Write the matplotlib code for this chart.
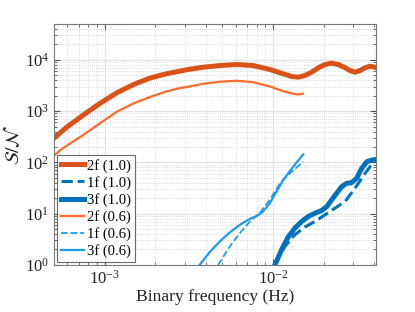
import numpy as np
import matplotlib
matplotlib.use("Agg")
import matplotlib.pyplot as plt

plt.rcParams['font.family'] = ['Liberation Serif', 'DejaVu Serif']
plt.rcParams['mathtext.fontset'] = 'stix'

# 2f (1.0)
f_2f10 = [5.0e-4, 5.92e-4, 7.43e-4, 9.33e-4, 1.175e-3, 1.476e-3, 1.854e-3, 2.33e-3, 2.79e-3,
          3.06e-3, 3.85e-3, 4.84e-3, 6.08e-3, 7.64e-3, 9.59e-3, 1.15e-2, 1.29e-2, 1.416e-2,
          1.549e-2, 1.70e-2, 1.862e-2, 2.04e-2, 2.23e-2, 2.45e-2, 2.69e-2, 2.87e-2, 3.08e-2,
          3.30e-2, 3.53e-2, 3.78e-2, 4.05e-2, 4.1e-2]
s_2f10 = [295, 479, 828, 1400, 2250, 3270, 4400, 5350, 6010,
          6400, 7180, 7740, 8110, 7740, 6490, 5350, 4740, 4590,
          4950, 5750, 7000, 8110, 8590, 8110, 7000, 6190, 5750,
          6190, 7000, 7520, 7180, 7050]

# 2f (0.6)
f_2f06 = [5.0e-4, 5.52e-4, 7.43e-4, 9.33e-4, 1.175e-3, 1.476e-3, 1.854e-3, 2.33e-3, 2.79e-3,
          3.06e-3, 3.85e-3, 4.84e-3, 6.08e-3, 7.64e-3, 9.59e-3, 1.15e-2, 1.38e-2, 1.45e-2, 1.51e-2]
s_2f06 = [135, 179, 339, 571, 962, 1400, 1880, 2420, 2810,
          2940, 3420, 3740, 3910, 3670, 3030, 2450, 2120, 2130, 2190]

# 3f (0.6)
f_3f06 = [3.67e-3, 4.22e-3, 4.84e-3, 5.55e-3, 6.37e-3, 7.30e-3, 8.00e-3, 8.75e-3, 9.59e-3,
          1.052e-2, 1.151e-2, 1.262e-2, 1.384e-2, 1.514e-2]
s_3f06 = [1.0, 1.79, 2.87, 4.30, 6.07, 7.93, 8.93, 11.0, 16.0,
          26.9, 45.3, 67.8, 100, 143]

# 1f (0.6)
f_1f06 = [4.73e-3, 5.55e-3, 6.37e-3, 7.30e-3, 8.38e-3, 9.59e-3, 1.102e-2, 1.262e-2, 1.514e-2]
s_1f06 = [1.0, 2.30, 4.18, 7.03, 10.5, 18.5, 39.1, 61.1, 103]

# 3f (1.0)
f_3f10 = [1.028e-2, 1.127e-2, 1.233e-2, 1.352e-2, 1.483e-2, 1.622e-2, 1.778e-2, 1.950e-2,
          2.089e-2, 2.234e-2, 2.393e-2, 2.564e-2, 2.748e-2, 2.938e-2, 3.148e-2, 3.373e-2,
          3.614e-2, 3.873e-2, 4.1e-2]
s_3f10 = [1.0, 1.98, 3.50, 5.22, 7.03, 8.79, 10.2, 11.5,
          13.7, 18.5, 25.0, 33.6, 39.1, 40.2, 48.9, 76.4,
          103, 111, 114]

# 1f (1.0)
f_1f10 = [1.028e-2, 1.178e-2, 1.352e-2, 1.549e-2, 1.778e-2, 2.042e-2, 2.339e-2, 2.685e-2,
          3.076e-2, 3.532e-2, 4.046e-2]
s_1f10 = [1.0, 2.30, 3.87, 5.47, 7.03, 9.48, 12.8, 17.2, 31.3, 61.1, 111]

c_dark_or = '#D95319'
c_light_or = '#FF6A2A'
c_dark_bl = '#0072BD'
c_light_bl = '#1E9BEF'

fig = plt.figure(figsize=(4.15, 3.12), dpi=100)
ax = fig.add_axes([0.130, 0.151, 0.776, 0.772])

kw = dict(solid_joinstyle='round', dash_joinstyle='round')
ax.loglog(f_2f10, s_2f10, color=c_dark_or, lw=3.6, label='2f (1.0)', **kw)
ax.loglog(f_1f10, s_1f10, color=c_dark_bl, lw=2.2, ls='--', label='1f (1.0)', **kw)
ax.loglog(f_3f10, s_3f10, color=c_dark_bl, lw=3.6, label='3f (1.0)', **kw)
ax.loglog(f_2f06, s_2f06, color=c_light_or, lw=1.6, label='2f (0.6)', **kw)
ax.loglog(f_1f06, s_1f06, color=c_light_bl, lw=1.3, ls='--', label='1f (0.6)', **kw)
ax.loglog(f_3f06, s_3f06, color=c_light_bl, lw=1.6, label='3f (0.6)', **kw)

ax.set_xlim(5e-4, 4.1e-2)
ax.set_ylim(1, 5e4)

ax.grid(True, which='major', color='#e3e3e3', lw=0.9, ls='-')
ax.grid(True, which='minor', color='#d0d0d0', lw=0.6, ls=':')
ax.set_axisbelow(True)

ax.tick_params(which='both', direction='in', top=True, right=True, colors='#555555',
               labelcolor='#222222', labelsize=12)
ax.tick_params(which='major', length=4)
ax.tick_params(which='minor', length=2)
for sp in ax.spines.values():
    sp.set_color('#777777')
    sp.set_linewidth(0.8)

ax.set_xlabel('Binary frequency (Hz)', fontsize=12.6, color='#222222', labelpad=1)
ax.set_ylabel(r'$\mathcal{S}/\mathcal{N}$', fontsize=14, color='#222222', labelpad=1)

leg = ax.legend(loc='lower left', fontsize=10.5, frameon=True, fancybox=False,
                edgecolor='#444444', borderpad=0.25, labelspacing=0.22,
                handlelength=1.6, handletextpad=0.25, borderaxespad=0.2)
leg.get_frame().set_linewidth(0.8)

fig.savefig('out.png', dpi=100)
